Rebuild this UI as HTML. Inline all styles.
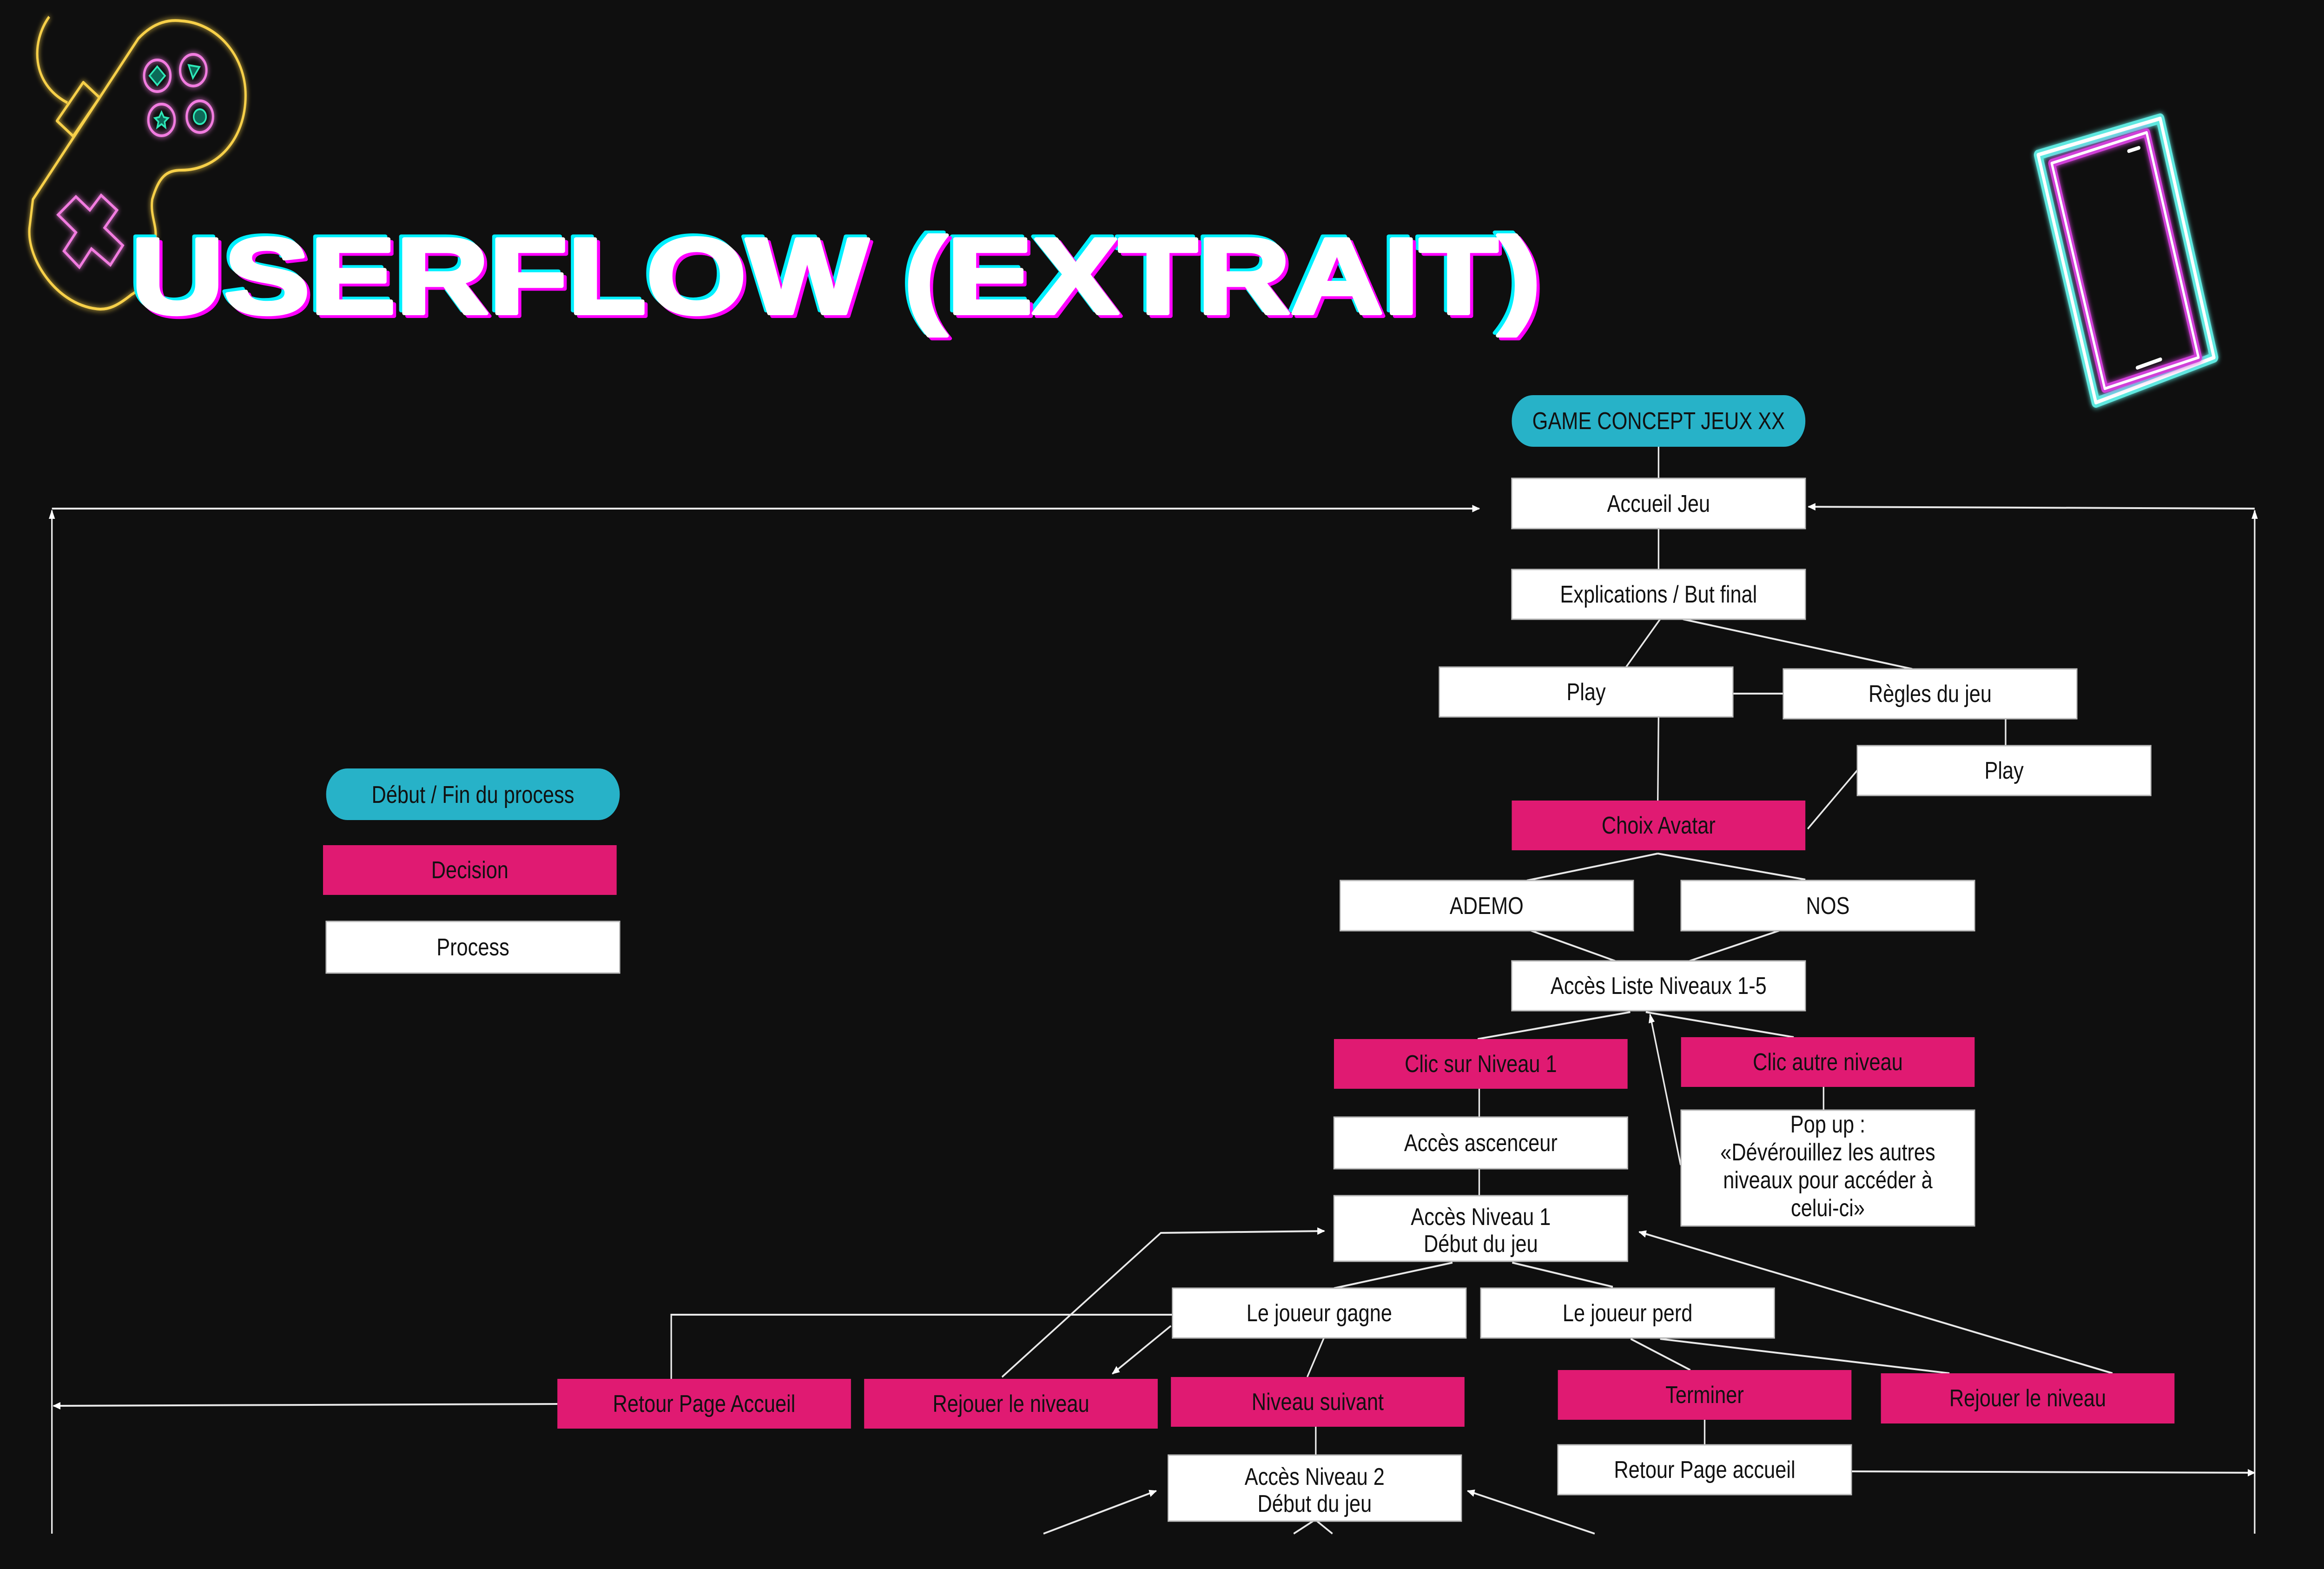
<!DOCTYPE html>
<html><head><meta charset="utf-8"><style>
html,body{margin:0;padding:0;background:#0f0f0f;overflow:hidden;width:100%;height:100%;}
svg{display:block;width:100vw;height:100vh;}
text{font-family:"Liberation Sans",sans-serif;}
</style></head><body>
<svg viewBox="0 0 6000 3375" preserveAspectRatio="none" xmlns="http://www.w3.org/2000/svg">
<defs>
<filter id="glow" x="-20%" y="-20%" width="140%" height="140%"><feGaussianBlur stdDeviation="6" result="b"/><feMerge><feMergeNode in="b"/><feMergeNode in="SourceGraphic"/></feMerge></filter>
<marker id="a2" markerWidth="20" markerHeight="20" refX="18" refY="10" orient="auto" markerUnits="userSpaceOnUse"><path d="M0,2 L20,10 L0,18 z" fill="#fff"/></marker>
</defs>
<rect width="6000" height="3375" fill="#0f0f0f"/>

<!-- controller -->
<g fill="none" stroke="#f7d04a" stroke-width="6" filter="url(#glow)" stroke-linejoin="round">
<path d="M127,36 C80,90 80,180 174,221"/>
<path d="M357,83 C400,45 440,42 469,45 C560,50 634,120 634,205 C634,300 560,366 469,366 C430,366 410,380 393,429 C388,460 402,480 402,504 C395,580 370,620 339,634 C300,660 280,665 259,665 C150,660 70,560 76,491 L85,429 Z"/>
<path d="M147,260 L215,177 L257,210 L189,293 Z"/>
</g>
<g fill="none" stroke="#f27be0" stroke-width="6" filter="url(#glow)">
<circle cx="406" cy="163" r="34"/><circle cx="499" cy="151" r="34"/>
<circle cx="417" cy="258" r="34"/><circle cx="516" cy="251" r="34"/>
<path d="M196,423 L232,452 L261,420 L302,452 L270,490 L317,528 L285,570 L236,535 L205,575 L165,540 L196,500 L150,462 Z"/>
</g>
<g fill="#0c6a58" stroke="#2ee8b8" stroke-width="4">
<path d="M406,143 L426,163 L406,183 L386,163 Z"/>
<path d="M487,140 L515,144 L498,168 Z"/>
<path d="M417,241 L423,252 L434,254 L425,262 L427,274 L417,267 L406,274 L409,262 L400,254 L411,252 Z"/>
<circle cx="516" cy="251" r="16"/>
</g>

<!-- title -->
<g font-weight="bold" font-size="232" stroke-width="8" stroke-linejoin="round">
<text x="330" y="668" textLength="3640" lengthAdjust="spacingAndGlyphs" fill="#00f0ff" stroke="#00f0ff">USERFLOW (EXTRAIT)</text>
<text x="346" y="680" textLength="3640" lengthAdjust="spacingAndGlyphs" fill="#ff00ff" stroke="#ff00ff">USERFLOW (EXTRAIT)</text>
<text x="338" y="674" textLength="3640" lengthAdjust="spacingAndGlyphs" fill="#fff" stroke="#fff">USERFLOW (EXTRAIT)</text>
</g>

<!-- phone -->
<g fill="none" stroke-linejoin="round" stroke-linecap="round">
<path d="M5262,333 L5577,255 L5716,769 L5411,866 Z" stroke="#5ee8e0" stroke-width="22" filter="url(#glow)"/>
<path d="M5262,333 L5577,255 L5716,769 L5411,866 Z" stroke="#fff" stroke-width="8"/>
<path d="M5297,351 L5542,285 L5676,769 L5434,836 Z" stroke="#d040d8" stroke-width="18" filter="url(#glow)"/>
<path d="M5297,351 L5542,285 L5676,769 L5434,836 Z" stroke="#fff" stroke-width="6"/>
<path d="M5496,325 L5522,318 M5518,791 L5578,773" stroke="#fff" stroke-width="8"/>
</g>

<!-- connectors -->
<g stroke="#e8e8e8" stroke-width="4" fill="none">
<line x1="4282" y1="961" x2="4282" y2="1029"/>
<line x1="4282" y1="1137" x2="4282" y2="1225"/>
<line x1="4286" y1="1332" x2="4198" y2="1435"/>
<line x1="4345" y1="1332" x2="4937" y2="1439"/>
<line x1="4474" y1="1492" x2="4604" y2="1492"/>
<line x1="5178" y1="1546" x2="5178" y2="1604"/>
<line x1="4282" y1="1542" x2="4280" y2="1722"/>
<line x1="4795" y1="1657" x2="4667" y2="1783"/>
<line x1="4280" y1="1836" x2="3942" y2="1894"/>
<line x1="4280" y1="1836" x2="4661" y2="1892"/>
<line x1="3953" y1="2002" x2="4170" y2="2067"/>
<line x1="4593" y1="2002" x2="4362" y2="2067"/>
<line x1="4209" y1="2177" x2="3815" y2="2235"/>
<line x1="4249" y1="2177" x2="4631" y2="2231"/>
<line x1="3819" y1="2342" x2="3819" y2="2403"/>
<line x1="3819" y1="2514" x2="3819" y2="2572"/>
<line x1="4708" y1="2338" x2="4708" y2="2388"/>
<line x1="4339" y1="2506" x2="4260" y2="2182" marker-end="url(#a2)"/>
<line x1="3750" y1="2716" x2="3444" y2="2771"/>
<line x1="3904" y1="2716" x2="4164" y2="2768"/>
<polyline points="3027,2828 1733,2828 1733,2966"/>
<polyline points="2587,2962 2997,2652 3419,2648" marker-end="url(#a2)"/>
<line x1="3023" y1="2852" x2="2872" y2="2955" marker-end="url(#a2)"/>
<line x1="3418" y1="2878" x2="3375" y2="2962"/>
<line x1="3397" y1="3069" x2="3397" y2="3130"/>
<line x1="4210" y1="2880" x2="4364" y2="2947"/>
<line x1="4286" y1="2880" x2="5033" y2="2954"/>
<line x1="5454" y1="2954" x2="4232" y2="2650" marker-end="url(#a2)"/>
<line x1="4401" y1="3054" x2="4401" y2="3108"/>
<line x1="2694" y1="3299" x2="2985" y2="3207" marker-end="url(#a2)"/>
<line x1="4117" y1="3299" x2="3789" y2="3207" marker-end="url(#a2)"/>
<line x1="3340" y1="3299" x2="3390" y2="3272"/><line x1="3440" y1="3299" x2="3400" y2="3272"/>
<line x1="134" y1="3299" x2="134" y2="1098" marker-end="url(#a2)"/>
<line x1="134" y1="1094" x2="3819" y2="1094" marker-end="url(#a2)"/>
<line x1="5821" y1="3299" x2="5821" y2="1098" marker-end="url(#a2)"/>
<line x1="5821" y1="1094" x2="4669" y2="1090" marker-end="url(#a2)"/>
<line x1="4780" y1="3165" x2="5821" y2="3168" marker-end="url(#a2)"/>
<line x1="1439" y1="3020" x2="138" y2="3024" marker-end="url(#a2)"/>
</g>

<!-- nodes -->
<g font-size="52" text-anchor="middle" fill="#111">
<rect x="3903" y="850" width="758" height="111" rx="55" fill="#27b2c8"/><text x="4282" y="923">GAME CONCEPT JEUX XX</text>
<rect x="842" y="1653" width="758" height="111" rx="55" fill="#27b2c8"/><text x="1221" y="1727">Début / Fin du process</text>
<g stroke="#bbb" stroke-width="3">
<rect x="3903" y="1029" width="758" height="108" fill="#fff"/>
<rect x="3903" y="1225" width="758" height="107" fill="#fff"/>
<rect x="3716" y="1435" width="758" height="107" fill="#fff"/>
<rect x="4604" y="1439" width="758" height="107" fill="#fff"/>
<rect x="4795" y="1604" width="758" height="107" fill="#fff"/>
<rect x="3460" y="1894" width="757" height="108" fill="#fff"/>
<rect x="4340" y="1894" width="758" height="108" fill="#fff"/>
<rect x="3903" y="2067" width="758" height="107" fill="#fff"/>
<rect x="3444" y="2403" width="758" height="111" fill="#fff"/>
<rect x="4340" y="2388" width="758" height="249" fill="#fff"/>
<rect x="3444" y="2572" width="758" height="141" fill="#fff"/>
<rect x="3027" y="2771" width="758" height="107" fill="#fff"/>
<rect x="3823" y="2771" width="758" height="107" fill="#fff"/>
<rect x="4022" y="3108" width="758" height="107" fill="#fff"/>
<rect x="3016" y="3130" width="757" height="142" fill="#fff"/>
<rect x="842" y="1982" width="758" height="111" fill="#fff"/>
</g>
<g fill="#e01a72">
<rect x="3903" y="1722" width="758" height="107"/>
<rect x="3444" y="2235" width="758" height="107"/>
<rect x="4340" y="2231" width="758" height="107"/>
<rect x="1439" y="2966" width="758" height="107"/>
<rect x="2231" y="2966" width="758" height="107"/>
<rect x="3023" y="2962" width="758" height="107"/>
<rect x="4022" y="2947" width="758" height="107"/>
<rect x="4856" y="2954" width="758" height="108"/>
<rect x="834" y="1818" width="758" height="107"/>
</g>
<text x="4282" y="1101">Accueil Jeu</text>
<text x="4282" y="1296">Explications / But final</text>
<text x="4095" y="1506">Play</text>
<text x="4983" y="1510">Règles du jeu</text>
<text x="5174" y="1675">Play</text>
<text x="4282" y="1793">Choix Avatar</text>
<text x="3838" y="1966">ADEMO</text>
<text x="4719" y="1966">NOS</text>
<text x="4282" y="2138">Accès Liste Niveaux 1-5</text>
<text x="3823" y="2306">Clic sur Niveau 1</text>
<text x="4719" y="2302">Clic autre niveau</text>
<text x="3823" y="2476">Accès ascenceur</text>
<text x="4719" y="2436">Pop up :</text>
<text x="4719" y="2496">«Dévérouillez les autres</text>
<text x="4719" y="2556">niveaux pour accéder à</text>
<text x="4719" y="2616">celui-ci»</text>
<text x="3823" y="2635">Accès Niveau 1</text>
<text x="3823" y="2693">Début du jeu</text>
<text x="3406" y="2842">Le joueur gagne</text>
<text x="4202" y="2842">Le joueur perd</text>
<text x="1818" y="3037">Retour Page Accueil</text>
<text x="2610" y="3037">Rejouer le niveau</text>
<text x="3402" y="3033">Niveau suivant</text>
<text x="4401" y="3018">Terminer</text>
<text x="5235" y="3025">Rejouer le niveau</text>
<text x="4401" y="3179">Retour Page accueil</text>
<text x="3394" y="3194">Accès Niveau 2</text>
<text x="3394" y="3252">Début du jeu</text>
<text x="1213" y="1889">Decision</text>
<text x="1221" y="2055">Process</text>
</g>
</svg>
</body></html>
